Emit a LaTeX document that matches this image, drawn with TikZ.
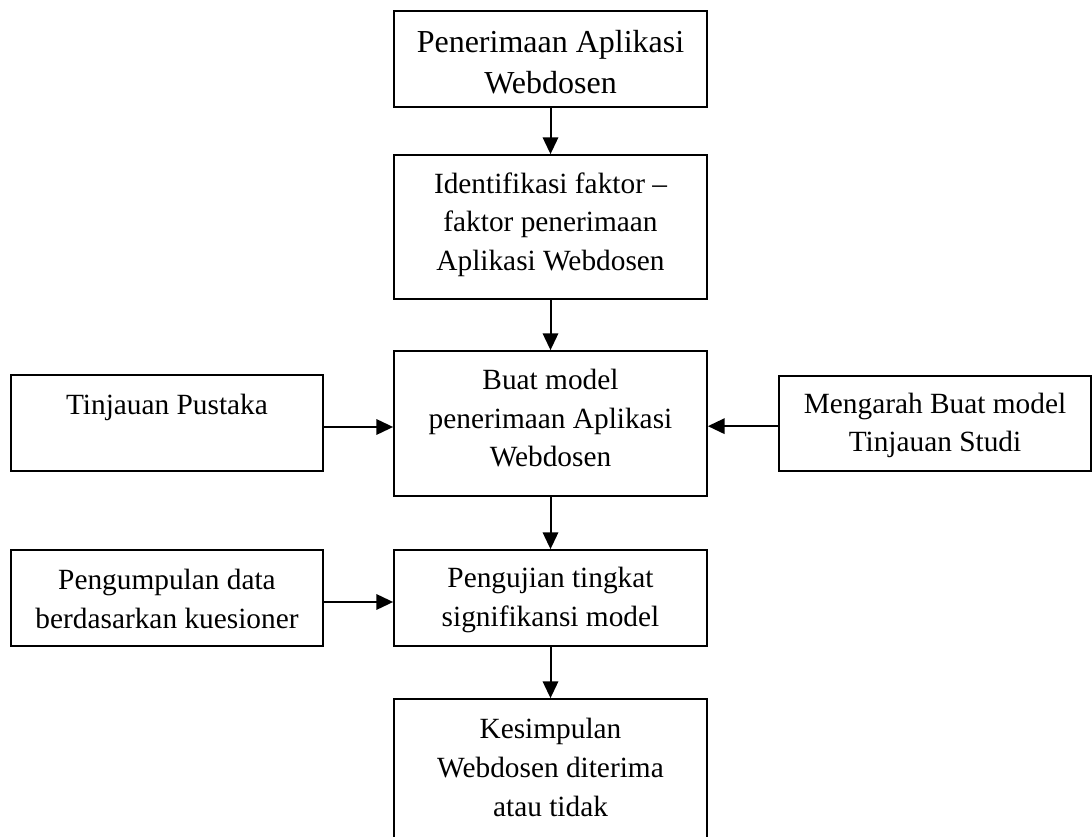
\documentclass[tikz,border=0pt]{standalone}
\usepackage{fontspec}
\setmainfont{Liberation Serif}
\usetikzlibrary{arrows.meta}
\begin{document}
\begin{tikzpicture}[x=0.75pt,y=-0.75pt,
  box/.style={draw, line width=1.3pt, inner sep=0pt, minimum width=313*0.75pt},
  sidebox/.style={box, minimum width=312*0.75pt},
  txt/.style={anchor=north, inner sep=0pt, align=center,
    font=\fontsize{22}{29}\selectfont},
  bigtxt/.style={txt, font=\fontsize{24}{31}\selectfont},
  arr/.style={line width=1.5pt, -{Triangle[length=12.5pt,width=11.5pt]}}
]
\clip (0,0) rectangle (1092,837);

% main column
\node[box, minimum height=96*0.75pt]  (b1) at (550.5,59)   {};
\node[box, minimum height=144*0.75pt] (b2) at (550.5,227)  {};
\node[box, minimum height=145*0.75pt] (b3) at (550.5,423.5) {};
\node[box, minimum height=96*0.75pt]  (b4) at (550.5,598)  {};
\node[box, minimum height=160*0.75pt] (b5) at (550.5,779)  {};

% side boxes
\node[sidebox, minimum height=96*0.75pt] (tp) at (167,423)   {};
\node[sidebox, minimum height=95*0.75pt] (ms) at (935,423.5) {};
\node[sidebox, minimum height=96*0.75pt] (pd) at (167,598)   {};

% box texts
\node[bigtxt] (t1) at ([yshift=-15pt]b1.north) {Penerimaan Aplikasi\\Webdosen};
\node[txt] (t2) at ([yshift=-13.5pt]b2.north) {Identifikasi faktor --\\faktor penerimaan\\Aplikasi Webdosen};
\node[txt] (t3) at ([yshift=-14pt]b3.north) {Buat model\\penerimaan Aplikasi\\Webdosen};
\node[txt] (t4) at ([yshift=-13.5pt]b4.north) {Pengujian tingkat\\signifikansi model};
\node[txt] (t5) at ([yshift=-15pt]b5.north) {Kesimpulan\\Webdosen diterima\\atau tidak};
\node[txt] (t6) at ([yshift=-15pt]tp.north) {Tinjauan Pustaka};
\node[txt] (t7) at ([yshift=-13pt]ms.north) {Mengarah Buat model\\Tinjauan Studi};
\node[txt] (t8) at ([yshift=-15pt]pd.north) {Pengumpulan data\\berdasarkan kuesioner};

% connectors
\draw[arr] (b1) -- (b2);
\draw[arr] (b2) -- (b3);
\draw[arr] (b3) -- (b4);
\draw[arr] (b4) -- (b5);
\draw[arr] ([yshift=-3pt]tp.east) -- ([yshift=-3pt]tp.east -| b3.west);
\draw[arr] ([yshift=-2pt]ms.west) -- ([yshift=-2pt]ms.west -| b3.east);
\draw[arr] ([yshift=-3pt]pd.east) -- ([yshift=-3pt]pd.east -| b4.west);
\end{tikzpicture}
\end{document}
